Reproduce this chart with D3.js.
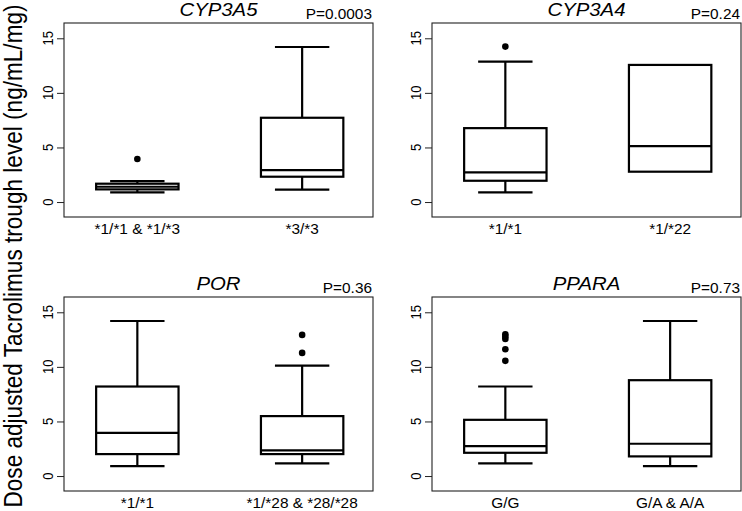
<!DOCTYPE html>
<html>
<head>
<meta charset="utf-8">
<script src="https://cdn.jsdelivr.net/npm/d3@7"></script>
<style>
  html, body { margin: 0; padding: 0; background: #fff; }
  svg { display: block; }
  text { font-family: "Liberation Sans", Arial, sans-serif; fill: #000; }
</style>
</head>
<body>
<script>
// ---- data ----
const panelTitles = ["CYP3A5", "CYP3A4", "POR", "PPARA"];
const pValues = ["P=0.0003", "P=0.24", "P=0.36", "P=0.73"];
const groupLabels = [
  ["*1/*1 & *1/*3", "*3/*3"],
  ["*1/*1", "*1/*22"],
  ["*1/*1", "*1/*28 & *28/*28"],
  ["G/G", "G/A & A/A"]
];
const lowerWhisker = [[0.88, 1.13], [0.88, 2.78], [0.91, 1.16], [1.16, 0.91]];
const q1Values     = [[1.16, 2.32], [1.95, 2.78], [2.01, 2.01], [2.13, 1.80]];
const medianValues = [[1.40, 2.93], [2.71, 5.12], [3.96, 2.35], [2.74, 2.96]];
const q3Values     = [[1.68, 7.72], [6.77, 12.56], [8.20, 5.49], [5.15, 8.78]];
const upperWhisker = [[1.92, 14.2], [12.87, 12.56], [14.2, 10.12], [8.20, 14.2]];
const outlierValues = [
  [[3.94], []],
  [[14.24], []],
  [[], [11.28, 12.93]],
  [[10.55, 11.62, 12.56, 12.78, 12.99], []]
];
const yTicks = [0, 5, 10, 15];
const yLabel = "Dose adjusted Tacrolimus trough level (ng/mL/mg)";

// ---- layout ----
const W = 742, H = 511;
const panelLeft = [64, 432, 64, 432];
const panelTop = [23, 23, 297, 297];
const pw = 309, ph = 194;
const sx = 1.1; // horizontal stretch of text in reference

const svg = d3.select("body").append("svg").attr("width", W).attr("height", H);

function addText(g, x, y, str, opts) {
  const s = opts.sx || sx;
  const t = g.append("text")
    .attr("transform", `translate(${x},${y}) scale(${s},1)` + (opts.rotate ? ` rotate(${opts.rotate})` : ""))
    .attr("text-anchor", opts.anchor || "middle")
    .style("font-size", opts.size + "px")
    .text(str);
  if (opts.italic) t.style("font-style", "italic");
  return t;
}

panelTitles.forEach((title, i) => {
  const L = panelLeft[i], T = panelTop[i];
  const g = svg.append("g");
  const y = d3.scaleLinear().domain([-1.37, 16.4]).range([T + ph, T]);
  const x = d3.scaleLinear().domain([0.555, 2.43]).range([L, L + pw]);

  // frame
  g.append("rect").attr("x", L).attr("y", T).attr("width", pw).attr("height", ph)
    .attr("fill", "none").attr("stroke", "#222").attr("stroke-width", 1.1);

  // y axis ticks
  const axis = d3.axisLeft(y).tickValues(yTicks).tickSize(7).tickFormat("");
  const ag = g.append("g").attr("transform", `translate(${L},0)`).call(axis);
  ag.select(".domain").remove();
  ag.selectAll(".tick line").attr("stroke", "#222").attr("stroke-width", 1);
  yTicks.forEach(v => {
    addText(g, L - 11, y(v), String(v), { size: 13, rotate: -90, sx: 1.12 });
  });

  // boxes
  [0, 1].forEach(j => {
    const cx = x(j + 1);
    const bw = x(1.25) - x(1);
    const cw = x(1.165) - x(1);
    const bg = g.append("g").attr("stroke", "#000").attr("stroke-width", 2.2).attr("fill", "none");
    const lw = lowerWhisker[i][j], uw = upperWhisker[i][j];
    const b1 = q1Values[i][j], b3 = q3Values[i][j], md = medianValues[i][j];
    if (uw > b3) {
      bg.append("line").attr("x1", cx).attr("x2", cx).attr("y1", y(b3)).attr("y2", y(uw));
      bg.append("line").attr("x1", cx - cw).attr("x2", cx + cw).attr("y1", y(uw)).attr("y2", y(uw));
    }
    if (lw < b1) {
      bg.append("line").attr("x1", cx).attr("x2", cx).attr("y1", y(b1)).attr("y2", y(lw));
      bg.append("line").attr("x1", cx - cw).attr("x2", cx + cw).attr("y1", y(lw)).attr("y2", y(lw));
    }
    bg.append("rect").attr("x", cx - bw).attr("y", y(b3)).attr("width", 2 * bw)
      .attr("height", y(b1) - y(b3)).attr("fill", "#fff");
    bg.append("line").attr("x1", cx - bw).attr("x2", cx + bw).attr("y1", y(md)).attr("y2", y(md));
    g.selectAll(null).data(outlierValues[i][j]).enter().append("circle")
      .attr("cx", cx).attr("cy", d => y(d)).attr("r", 3.3).attr("fill", "#000");
    addText(g, cx, T + ph + 16.5, groupLabels[i][j], { size: 14 });
  });

  addText(g, L + pw / 2, T - 7, title, { size: 18.5, italic: true, sx: 1.1 });
  addText(g, L + pw - 1, T - 4.5, pValues[i], { size: 14, anchor: "end" });
});

addText(svg, 22, 256, yLabel, { size: 22.6, rotate: -90, sx: 1.15 });
</script>
</body>
</html>
